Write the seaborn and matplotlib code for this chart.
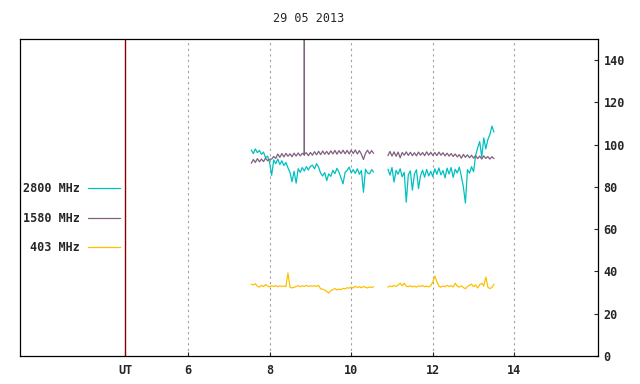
import numpy as np
import pandas as pd
import matplotlib
matplotlib.use('Agg')
import matplotlib.pyplot as plt
import seaborn as sns

# Style: plain white, gnuplot-like mono text
sns.set_theme(style="white")
plt.rcParams['font.family'] = ['DejaVu Sans Mono', 'DejaVu Sans']
plt.rcParams['font.weight'] = 'bold'

# --- Data (hours UT, flux units) ---
t_seg1 = np.round(np.arange(7.55, 10.56, 0.05), 2)   # 61 samples
t_seg2 = np.round(np.arange(10.90, 13.51, 0.05), 2)  # 53 samples

f2800_seg1 = [97.5, 95.8, 98.0, 96.2, 97.3, 95.4, 96.5, 93.8, 94.6, 91.5,
              85.5, 92.8, 91.0, 93.2, 90.6, 92.4, 90.1, 91.6, 89.0, 86.8,
              82.5, 87.4, 81.8, 88.6, 86.9, 89.2, 87.5, 89.6, 88.0, 89.8,
              90.3, 88.6, 91.0, 89.4, 86.5, 85.2, 86.8, 83.0, 86.2, 85.0,
              87.9, 86.3, 88.8, 87.0, 84.2, 81.5, 86.9, 87.8, 89.4, 86.6,
              88.2, 86.4, 88.6, 86.0, 87.8, 77.5, 88.4, 86.6, 86.2, 88.2,
              87.0]
f1580_seg1 = [91.2, 93.0, 91.6, 93.4, 91.9, 93.2, 92.0, 93.6, 92.4, 93.1,
              93.2, 94.4, 93.5, 95.6, 94.0, 95.8, 94.2, 95.9, 94.5, 95.7,
              94.3, 96.0, 94.6, 96.1, 94.7, 95.9, 95.0, 96.2, 94.8, 96.3,
              95.0, 96.7, 95.2, 96.9, 95.3, 97.0, 95.5, 96.8, 95.4, 97.1,
              95.6, 97.3, 95.5, 97.2, 95.8, 97.4, 95.7, 97.3, 95.6, 97.4,
              95.8, 97.5, 95.6, 97.2, 95.5, 93.0, 95.9, 97.4, 95.7, 97.2,
              95.9]
f403_seg1 = [34.0, 33.6, 34.2, 33.0, 32.6, 33.4, 32.9, 33.8, 33.1, 32.7,
             33.2, 32.9, 33.3, 32.8, 33.2, 32.9, 33.1, 32.8, 39.3, 32.6,
             32.2, 32.5, 32.9, 33.3, 32.8, 33.2, 33.0, 33.4, 32.9, 33.2,
             33.0, 33.3, 32.9, 33.4, 31.8, 31.6, 31.2, 30.6, 29.8, 30.9,
             31.4, 31.9, 31.3, 31.7, 31.4, 32.0, 31.8, 32.3, 32.1, 32.6,
             32.2, 33.0, 32.4, 32.8, 32.3, 32.9, 32.5, 32.2, 32.7, 32.4,
             32.8]

# short 1580 MHz burst near 8.85 UT
burst_time = [8.849, 8.850, 8.851]
burst_flux = [95.5, 900.0, 95.5]

f2800_seg2 = [88.4, 85.6, 89.2, 82.3, 87.8, 86.0, 88.6, 84.8, 86.9, 72.8,
              85.8, 87.6, 78.5, 86.2, 88.1, 79.2, 85.4, 87.9, 84.6, 88.3,
              85.2, 87.4, 84.9, 88.6, 86.0, 89.0, 85.7, 87.8, 84.3, 88.9,
              86.1, 89.2, 84.5, 88.4, 86.6, 89.4, 85.1, 80.0, 72.4, 88.2,
              86.5, 89.6, 87.2, 95.0, 98.5, 101.5, 94.0, 103.2, 98.0, 102.4,
              104.8, 108.8, 106.0]
f1580_seg2 = [94.8, 96.8, 94.6, 96.6, 94.5, 96.5, 93.8, 96.3, 95.0, 96.6,
              94.9, 96.4, 94.8, 96.2, 94.7, 96.5, 95.0, 96.3, 94.8, 96.6,
              95.0, 96.4, 94.9, 96.3, 94.8, 96.5, 95.0, 96.2, 94.7, 96.0,
              94.6, 95.8, 94.4, 95.6, 94.2, 95.3, 93.6, 95.4, 94.0, 95.2,
              93.8, 95.0, 93.6, 94.8, 93.4, 94.6, 93.2, 94.7, 93.5, 94.4,
              93.2, 94.3, 93.4]
f403_seg2 = [32.6, 33.1, 32.8, 33.4, 32.9, 33.6, 34.5, 33.2, 34.4, 33.0,
             32.8, 33.3, 32.7, 33.1, 32.6, 33.2, 32.9, 33.4, 32.8, 33.1,
             32.7, 33.3, 35.0, 37.8, 35.2, 33.0, 32.6, 33.1, 32.8, 33.4,
             32.9, 33.3, 32.7, 34.4, 33.1, 32.6, 33.2, 32.4, 31.8, 32.9,
             33.5, 34.0, 32.8, 33.6, 32.2, 33.8, 34.4, 33.1, 37.4, 32.6,
             31.9, 32.4, 34.0]

freq_labels = ['2800 MHz', '1580 MHz', '403 MHz']
colors = {'2800 MHz': '#00c0c0', '1580 MHz': '#806080', '403 MHz': '#ffc000'}

x_ticks = [4.46, 6, 8, 10, 12, 14]
x_ticklabels = ['UT', '6', '8', '10', '12', '14']
y_ticks = [0, 20, 40, 60, 80, 100, 120, 140]


def build_frame():
    parts = []
    series = {'2800 MHz': (f2800_seg1, f2800_seg2),
              '1580 MHz': (f1580_seg1, f1580_seg2),
              '403 MHz': (f403_seg1, f403_seg2)}
    for label, (s1, s2) in series.items():
        parts.append(pd.DataFrame({'time': t_seg1, 'flux': s1, 'freq': label, 'seg': 1}))
        parts.append(pd.DataFrame({'time': t_seg2, 'flux': s2, 'freq': label, 'seg': 2}))
    parts.append(pd.DataFrame({'time': burst_time, 'flux': burst_flux, 'freq': '1580 MHz', 'seg': 1}))
    out = pd.concat(parts, ignore_index=True)
    return out.sort_values(['freq', 'seg', 'time']).reset_index(drop=True)


df = build_frame()

fig = plt.figure(figsize=(6.4, 3.84), dpi=100)
ax = fig.add_axes([0.03125, 0.0729, 0.9031, 0.8255])

# grid + UT marker
for xt in x_ticks[1:]:
    ax.axvline(xt, color='#a0a0a0', lw=0.8, ls=(0, (2, 3)), zorder=0)
ax.axvline(x_ticks[0], color='#8b0000', lw=1.0, zorder=1)

sns.lineplot(data=df, x='time', y='flux', hue='freq', hue_order=freq_labels,
             palette=colors, units='seg', estimator=None, sort=False, lw=0.9, ax=ax)

ax.set_xlim(1.88, 16.05)
ax.set_ylim(0, 150)
ax.set_xticks(x_ticks)
ax.set_xticklabels(x_ticklabels)
ax.set_yticks(y_ticks)
ax.yaxis.tick_right()
ax.tick_params(axis='x', direction='in', length=3, width=0.8, pad=6, labelsize=8.5, bottom=True)
ax.tick_params(axis='y', direction='in', length=3, width=0.8, pad=4, labelsize=8.5,
               right=True, left=False)
ax.set_xlabel('')
ax.set_ylabel('')
for sp in ax.spines.values():
    sp.set_color('black')
    sp.set_linewidth(0.9)

ax.set_title('29 05 2013', fontsize=8.5, pad=12)

handles, labels = ax.get_legend_handles_labels()
ax.legend(handles, labels, loc='upper right', bbox_to_anchor=(0.1875, 0.525),
          bbox_transform=fig.transFigure, frameon=False, markerfirst=False,
          fontsize=8.5, handlelength=2.7, handletextpad=0.7, labelspacing=1.4,
          borderpad=0, borderaxespad=0)

fig.savefig('out.png', dpi=100)
